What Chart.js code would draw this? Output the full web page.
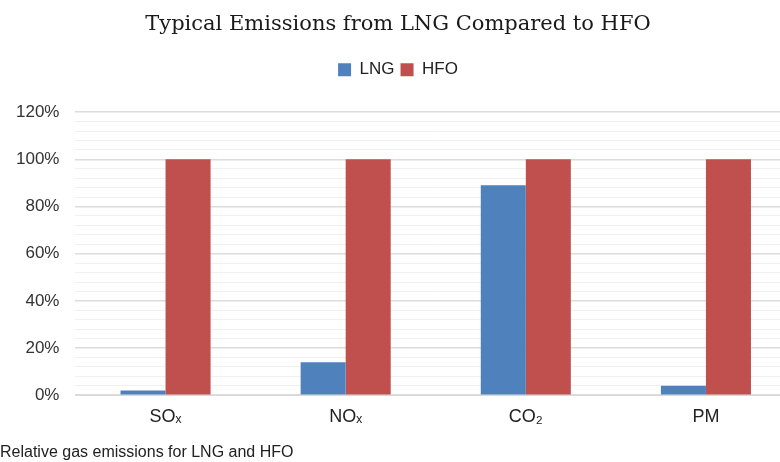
<!DOCTYPE html>
<html>
<head>
<meta charset="utf-8">
<script src="https://cdn.jsdelivr.net/npm/chart.js@4/dist/chart.umd.min.js"></script>
<style>
  html, body { margin: 0; padding: 0; background: #fff; overflow: hidden; }
  #wrap { position: relative; width: 800px; height: 462px; }
</style>
</head>
<body>
<div id="wrap"><canvas id="myChart"></canvas></div>
<script>
var categories = ['SOₓ', 'NOₓ', 'CO₂', 'PM'];
var lngValues = [2, 14, 89, 4];
var hfoValues = [100, 100, 100, 100];
var yTicks = [0, 20, 40, 60, 80, 100, 120];

// extra room under the legend, like the original
var legendMargin = {
    id: 'legendMargin',
    beforeInit: function(chart) {
        var fit = chart.legend.fit;
        chart.legend.fit = function() {
            fit.bind(chart.legend)();
            this.height += 24;
        };
    }
};

var ctx = document.getElementById('myChart').getContext('2d');

var myChart = new Chart(ctx, {
    type: 'bar',
    data: {
        labels: categories,
        datasets: [{
            label: 'LNG',
            data: lngValues,
            backgroundColor: 'rgb(79, 129, 189)'
        }, {
            label: 'HFO',
            data: hfoValues,
            backgroundColor: 'rgb(192, 80, 77)'
        }]
    },
    plugins: [legendMargin],
    options: {
        responsive: true,
        maintainAspectRatio: false,
        animation: false,
        layout: {
            padding: { left: 0, right: 4, top: 10, bottom: 0 }
        },
        datasets: {
            bar: { barPercentage: 1, categoryPercentage: 0.5 }
        },
        plugins: {
            title: {
                display: true,
                text: 'Typical Emissions from LNG Compared to HFO',
                color: '#1a1a1a',
                font: { family: 'DejaVu Serif', size: 21, weight: 'normal' },
                padding: { top: 2, bottom: 18 }
            },
            legend: {
                display: true,
                position: 'top',
                labels: {
                    boxWidth: 13,
                    boxHeight: 13,
                    padding: 6,
                    color: '#222',
                    font: { family: 'Liberation Sans', size: 17 }
                }
            },
            subtitle: {
                display: true,
                position: 'bottom',
                align: 'start',
                text: 'Relative gas emissions for LNG and HFO',
                color: '#222',
                font: { family: 'Liberation Sans', size: 16 },
                padding: { top: 4, bottom: 0 }
            },
            tooltip: { enabled: true }
        },
        scales: {
            x: {
                grid: { display: false, drawTicks: false },
                border: { display: true, color: '#d9d9d9', width: 1 },
                ticks: {
                    color: '#222',
                    font: { family: 'Liberation Sans', size: 18 },
                    padding: 11
                }
            },
            y: {
                min: 0,
                max: 120,
                border: { display: false },
                grid: {
                    drawTicks: false,
                    color: function(c) {
                        return yTicks.indexOf(c.tick.value) >= 0 ? '#dcdcdc' : '#f0f0f0';
                    },
                    lineWidth: function(c) {
                        return yTicks.indexOf(c.tick.value) >= 0 ? 1.5 : 1;
                    }
                },
                ticks: {
                    stepSize: 4,
                    autoSkip: false,
                    maxTicksLimit: 40,
                    padding: 16,
                    color: '#333',
                    font: { family: 'Liberation Sans', size: 17 },
                    callback: function(value) {
                        return yTicks.indexOf(value) >= 0 ? value + '%' : '';
                    }
                }
            }
        }
    }
});
</script>
</body>
</html>
